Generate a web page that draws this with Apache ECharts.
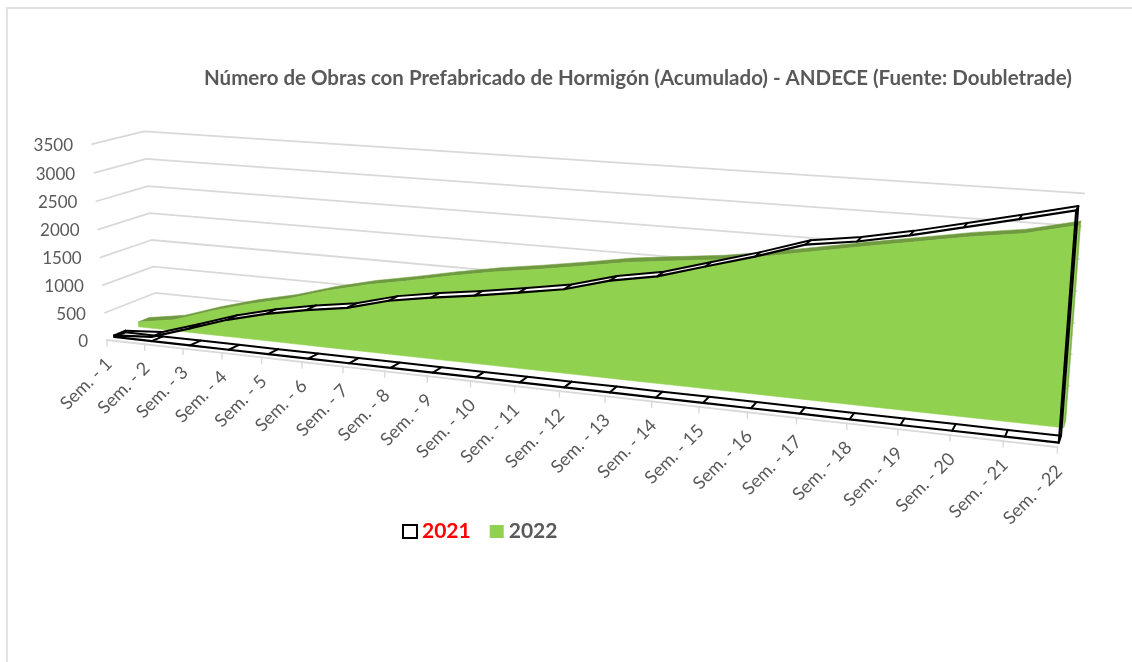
<!DOCTYPE html>
<html>
<head>
<meta charset="utf-8">
<title>Obras con Prefabricado de Hormigón</title>
<script src="https://cdn.jsdelivr.net/npm/echarts@6/dist/echarts.min.js"></script>
<style>
  html, body { margin: 0; background: #fff; }
  #chart { width: 1132px; height: 662px; }
</style>
</head>
<body>
<div id="chart"></div>
<script>
const semanas = ['Sem. - 1','Sem. - 2','Sem. - 3','Sem. - 4','Sem. - 5','Sem. - 6','Sem. - 7','Sem. - 8','Sem. - 9','Sem. - 10','Sem. - 11','Sem. - 12','Sem. - 13','Sem. - 14','Sem. - 15','Sem. - 16','Sem. - 17','Sem. - 18','Sem. - 19','Sem. - 20','Sem. - 21','Sem. - 22'];
const obras2021 = [30,80,305,540,720,860,970,1165,1290,1395,1515,1640,1850,1985,2210,2430,2680,2790,2945,3125,3305,3490];
const obras2022 = [90,210,445,645,810,1025,1200,1340,1490,1625,1735,1855,1985,2075,2160,2280,2425,2565,2700,2835,2945,3130];
const marcasY = [0,500,1000,1500,2000,2500,3000,3500];

// excel 3d area view: grid pixels go through this perspective
const O = [107,340], A = [766.4,29.4], B = [-17.76,-200.3], C = [57.2,-6.2];
const wA = -0.174, wB = -0.03, wC = 0.046;

function proyectar(cs, p, d) {
  const t = (p[0] - cs.x) / cs.width;
  const h = (cs.y + cs.height - p[1]) / cs.height;
  const w = 1 + wA * t + wB * h + wC * d;
  return [
    (O[0] + A[0] * t + B[0] * h + C[0] * d) / w,
    (O[1] + A[1] * t + B[1] * h + C[1] * d) / w
  ];
}

const linea = (puntos, color, ancho) => ({
  type: 'polyline',
  shape: { points: puntos },
  style: { fill: 'none', stroke: color, lineWidth: ancho, lineJoin: 'round', lineCap: 'round' }
});
const poligono = (puntos, relleno) => ({
  type: 'polygon',
  shape: { points: puntos },
  style: { fill: relleno, stroke: relleno, lineWidth: 0.5 }
});

function borde(params, api, valores, d) {
  return valores.map((v, i) => proyectar(params.coordSys, api.coord([i, v]), d));
}

function pintar2022(params, api) {
  if (params.dataIndex !== 0) return null;
  const d1 = 0.62, d2 = 0.84;
  const ceros = obras2022.map(() => 0);
  const arribaF = borde(params, api, obras2022, d1);
  const arribaB = borde(params, api, obras2022, d2);
  const abajoF = borde(params, api, ceros, d1);
  const abajoB = borde(params, api, ceros, d2);
  const n = obras2022.length - 1;
  return {
    type: 'group',
    children: [
      poligono([arribaF[n], arribaB[n], abajoB[n], abajoF[n]], '#7cb048'),
      poligono(arribaF.concat(arribaB.slice().reverse()), '#6f9a3f'),
      poligono(arribaF.concat(abajoF.slice().reverse()), '#90d14f')
    ]
  };
}

function pintar2021(params, api) {
  if (params.dataIndex !== 0) return null;
  const d1 = 0.14, d2 = 0.36;
  const ceros = obras2021.map(() => 0);
  const arribaF = borde(params, api, obras2021, d1);
  const arribaB = borde(params, api, obras2021, d2);
  const abajoF = borde(params, api, ceros, d1);
  const abajoB = borde(params, api, ceros, d2);
  const n = obras2021.length - 1;
  const hijos = [
    poligono(abajoF.concat(abajoB.slice().reverse()), '#fff'),
    poligono(arribaF.concat(arribaB.slice().reverse()), '#fff'),
    linea(abajoB.concat([arribaB[n]]), '#000', 2),
    linea(arribaB, '#000', 2),
    linea(abajoF.concat(arribaF.slice().reverse()), '#000', 2.2)
  ];
  obras2021.forEach((v, i) => {
    hijos.push(linea([abajoF[i], abajoB[i]], '#000', 2));
    hijos.push(linea([arribaF[i], arribaB[i]], '#000', 2));
  });
  return { type: 'group', children: hijos };
}

function pintarRejilla(params, api) {
  const v = api.value(1);
  const cs = params.coordSys;
  const ultimo = semanas.length - 1;
  return linea([
    proyectar(cs, api.coord([0, v]), 0),
    proyectar(cs, api.coord([0, v]), 1),
    proyectar(cs, api.coord([ultimo, v]), 1)
  ], '#d9d9d9', 1.8);
}

function pintarSuelo(params, api) {
  const i = api.value(0);
  const cs = params.coordSys;
  const p = proyectar(cs, api.coord([i, 0]), 0);
  const hijos = [
    linea([p, [p[0], p[1] + 6]], '#d9d9d9', 1.4),
    {
      type: 'text',
      x: p[0] + 2,
      y: p[1] + 21,
      rotation: Math.PI / 4,
      style: { text: semanas[i], fill: '#595959', font: '18px Lato', align: 'right', verticalAlign: 'middle' }
    }
  ];
  if (i < semanas.length - 1) {
    hijos.push(linea([p, proyectar(cs, api.coord([i + 1, 0]), 0)], '#d9d9d9', 1.8));
  }
  return { type: 'group', children: hijos };
}

function pintarEtiquetaY(params, api) {
  const v = api.value(1);
  const p = proyectar(params.coordSys, api.coord([0, v]), 0);
  return {
    type: 'text',
    x: p[0] - 19,
    y: p[1] + 1.5,
    style: { text: String(v), fill: '#595959', font: '17px Lato', align: 'right', verticalAlign: 'middle' }
  };
}

const chart = echarts.init(document.getElementById('chart'));

chart.setOption({
  animation: false,
  backgroundColor: '#fff',
  graphic: [{
    type: 'rect',
    shape: { x: 7, y: 8, width: 1300, height: 900 },
    style: { fill: 'none', stroke: '#d9d9d9', lineWidth: 1.5 }
  }],
  title: {
    text: 'Número de Obras con Prefabricado de Hormigón (Acumulado) - ANDECE (Fuente: Doubletrade)',
    left: 204,
    top: 68,
    padding: 0,
    textStyle: { color: '#595959', fontFamily: 'Lato', fontWeight: 'bold', fontSize: 20.5 }
  },
  legend: {
    left: 402,
    top: 521,
    padding: 0,
    itemWidth: 14,
    itemHeight: 13,
    itemGap: 19,
    selectedMode: false,
    textStyle: { fontFamily: 'Lato', fontWeight: 'bold', fontSize: 21 },
    data: [
      { name: '2021', icon: 'rect', itemStyle: { color: '#fff', borderColor: '#000', borderWidth: 2 }, textStyle: { color: '#ff0000' } },
      { name: '2022', icon: 'rect', itemStyle: { color: '#90d14f', borderWidth: 0 }, textStyle: { color: '#595959' } }
    ]
  },
  grid: { left: 100, top: 100, width: 900, height: 300 },
  xAxis: { type: 'category', data: semanas, boundaryGap: false, show: false },
  yAxis: { type: 'value', min: 0, max: 3500, interval: 500, show: false },
  series: [
    { type: 'custom', name: 'rejilla', renderItem: pintarRejilla, silent: true,
      data: marcasY.filter(v => v > 0).map(v => [0, v]) },
    { type: 'custom', name: 'suelo', renderItem: pintarSuelo, silent: true,
      data: semanas.map((s, i) => [i, 0]) },
    { type: 'custom', name: 'etiquetasY', renderItem: pintarEtiquetaY, silent: true,
      data: marcasY.map(v => [0, v]) },
    { type: 'custom', name: '2022', renderItem: pintar2022, silent: true,
      data: obras2022.map((v, i) => [i, v]) },
    { type: 'custom', name: '2021', renderItem: pintar2021, silent: true,
      data: obras2021.map((v, i) => [i, v]) }
  ]
});
</script>
</body>
</html>
